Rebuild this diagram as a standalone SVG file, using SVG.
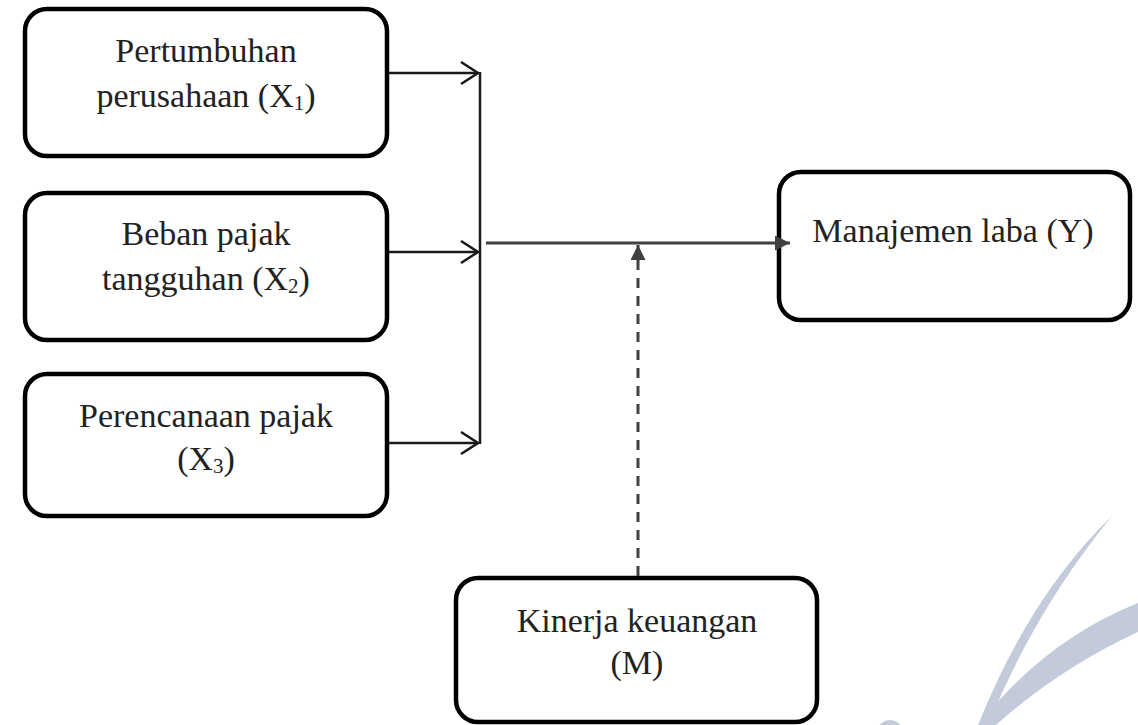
<svg xmlns="http://www.w3.org/2000/svg" width="1138" height="725" viewBox="0 0 1138 725">
<style>
.box{fill:#fff;stroke:#000;stroke-width:4.5}
.t{font-family:'Liberation Serif',serif;font-size:34px;fill:#222;text-anchor:middle}
.sub{font-size:21px}
.blk{stroke:#1a1a1a;stroke-width:2.5;fill:none}
.gry{stroke:#404040;stroke-width:3;fill:none}
.wm{fill:#c3cbdb}
</style>
<defs>
<marker id="open" markerWidth="20" markerHeight="24" refX="18" refY="12" orient="auto" markerUnits="userSpaceOnUse">
<path d="M1,1 L18,12 L1,23" fill="none" stroke="#1a1a1a" stroke-width="2.5"/>
</marker>
<marker id="fill" markerWidth="16" markerHeight="16" refX="15" refY="7.5" orient="auto" markerUnits="userSpaceOnUse">
<path d="M0,0 L15,7.5 L0,15 Z" fill="#404040"/>
</marker>
</defs>
<g id="watermark">
<path class="wm" d="M1112,516 Q1030,595 978,725 L988,725 Q1035,610 1112,516 Z"/>
<path class="wm" d="M1138,603 Q1045,640 978,725 L996,725 Q1060,668 1138,632 Z"/>
<ellipse class="wm" cx="890" cy="730" rx="12" ry="10"/>
</g>
<g id="x1">
<rect class="box" x="25" y="9" width="362" height="147" rx="22"/>
<text class="t" x="206" y="62">Pertumbuhan</text>
<text class="t" x="206" y="107">perusahaan (X<tspan class="sub" dy="3">1</tspan><tspan dy="-3">)</tspan></text>
</g>
<g id="x2">
<rect class="box" x="25" y="193" width="362" height="147" rx="22"/>
<text class="t" x="206" y="245">Beban pajak</text>
<text class="t" x="206" y="290">tangguhan (X<tspan class="sub" dy="3">2</tspan><tspan dy="-3">)</tspan></text>
</g>
<g id="x3">
<rect class="box" x="25" y="374" width="362" height="142" rx="22"/>
<text class="t" x="206" y="427">Perencanaan pajak</text>
<text class="t" x="206" y="470">(X<tspan class="sub" dy="3">3</tspan><tspan dy="-3">)</tspan></text>
</g>
<g id="y">
<rect class="box" x="779" y="172" width="351" height="148" rx="22"/>
<text class="t" x="953" y="242">Manajemen laba (Y)</text>
</g>
<g id="m">
<rect class="box" x="456" y="578" width="361" height="144" rx="22"/>
<text class="t" x="637" y="632">Kinerja keuangan</text>
<text class="t" x="637" y="674">(M)</text>
</g>
<g id="connectors">
<line class="blk" x1="389" y1="73" x2="478" y2="73" marker-end="url(#open)"/>
<line class="blk" x1="389" y1="252" x2="478" y2="252" marker-end="url(#open)"/>
<line class="blk" x1="389" y1="443" x2="478" y2="443" marker-end="url(#open)"/>
<line class="blk" x1="480" y1="72" x2="480" y2="444"/>
<line class="gry" x1="486" y1="243" x2="790" y2="243" marker-end="url(#fill)"/>
<line class="gry" x1="638" y1="576" x2="638" y2="245" stroke-dasharray="10 8" marker-end="url(#fill)"/>
</g>
</svg>
